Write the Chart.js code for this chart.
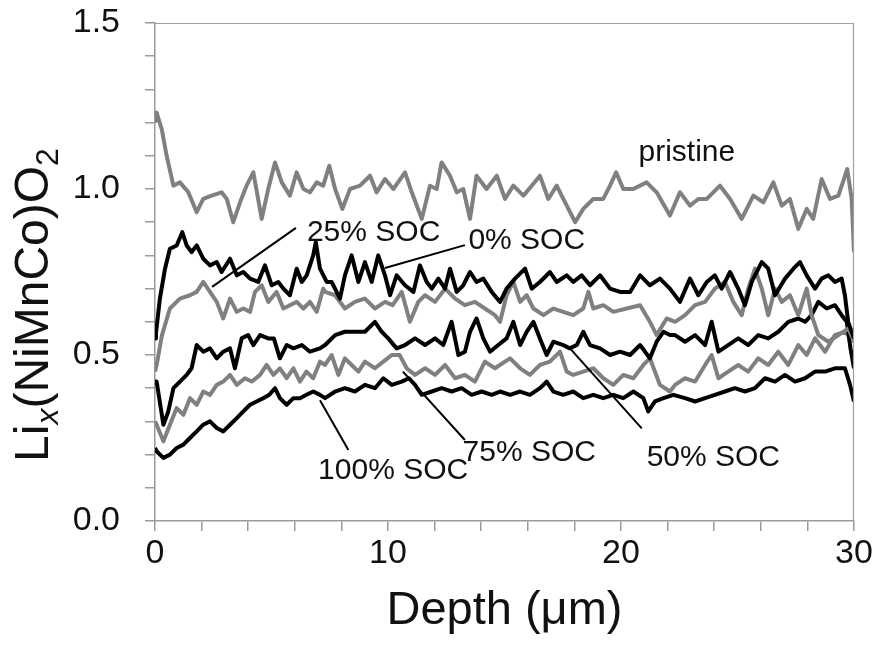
<!DOCTYPE html>
<html lang="en">
<head>
<meta charset="UTF-8" />
<title>Lix(NiMnCo)O2 depth profiles</title>
<script src="https://cdn.jsdelivr.net/npm/chart.js"></script>
<style>
  html,body{margin:0;padding:0;background:#fff}
  #wrap{width:877px;height:647px}
</style>
</head>
<body>
<div id="wrap"><canvas id="chart" width="877" height="647"></canvas></div>
<script>
// --- data: [depth (um), x in Lix(NiMnCo)O2] ---
const pristine=[[0,1.20],[0.07,1.23],[0.29,1.18],[0.5,1.10],[0.79,1.01],[1.07,1.02],[1.43,0.99],[1.79,0.93],[2.07,0.97],[2.43,0.98],[2.86,0.99],[3.08,0.97],[3.36,0.90],[3.65,0.96],[3.93,1.01],[4.22,1.05],[4.58,0.91],[4.86,1.00],[5.15,1.08],[5.44,1.02],[5.79,0.98],[6.08,1.05],[6.37,1.00],[6.65,0.99],[6.94,1.02],[7.22,1.01],[7.48,1.07],[7.73,1.00],[8.04,0.94],[8.37,1.00],[8.8,1.01],[9.23,1.04],[9.51,0.99],[9.87,1.03],[10.23,1.00],[10.73,1.05],[11.02,0.99],[11.45,0.91],[11.8,1.01],[12.09,1.00],[12.3,1.08],[12.66,1.04],[12.95,0.99],[13.23,1.00],[13.52,0.91],[13.8,1.04],[14.23,1.00],[14.67,1.04],[15.02,0.97],[15.38,1.01],[15.81,0.98],[16.17,1.01],[16.52,1.04],[16.88,0.97],[17.24,1.01],[17.6,0.96],[18.03,0.90],[18.38,0.94],[18.81,0.97],[19.24,0.97],[19.53,1.01],[19.79,1.05],[20.1,1.00],[20.53,1.00],[21.1,1.02],[21.53,0.99],[22.1,0.92],[22.53,0.99],[22.96,0.95],[23.32,0.97],[23.68,0.97],[24.25,1.01],[24.68,0.97],[25.18,0.91],[25.68,0.98],[26.11,0.96],[26.54,1.02],[26.9,0.95],[27.25,0.97],[27.61,0.88],[27.97,0.94],[28.25,0.91],[28.61,1.03],[28.97,0.97],[29.33,0.98],[29.71,1.06],[29.9,0.97],[30,0.81]];

const soc0=[[0,0.55],[0.04,0.565],[0.21,0.67],[0.43,0.76],[0.64,0.82],[0.93,0.83],[1.17,0.87],[1.36,0.83],[1.57,0.81],[1.79,0.83],[2.07,0.79],[2.36,0.77],[2.65,0.78],[2.86,0.75],[3.22,0.79],[3.51,0.74],[3.79,0.75],[4.08,0.73],[4.43,0.72],[4.72,0.77],[5.01,0.71],[5.29,0.72],[5.51,0.70],[5.79,0.68],[6.08,0.76],[6.3,0.72],[6.51,0.74],[6.79,0.80],[6.9,0.84],[7.08,0.76],[7.37,0.72],[7.58,0.72],[7.94,0.67],[8.15,0.74],[8.44,0.80],[8.73,0.72],[9.01,0.78],[9.3,0.72],[9.58,0.80],[9.87,0.74],[10.09,0.68],[10.37,0.74],[10.73,0.71],[11.09,0.69],[11.37,0.77],[11.66,0.72],[11.88,0.70],[12.16,0.73],[12.45,0.70],[12.66,0.76],[12.95,0.69],[13.23,0.71],[13.52,0.75],[13.8,0.72],[14.09,0.73],[14.45,0.69],[14.81,0.66],[15.09,0.70],[15.45,0.73],[15.88,0.76],[16.17,0.70],[16.52,0.72],[16.95,0.75],[17.24,0.72],[17.67,0.74],[17.95,0.72],[18.31,0.74],[18.67,0.71],[19.1,0.74],[19.53,0.70],[19.96,0.69],[20.39,0.69],[20.82,0.74],[21.24,0.71],[21.67,0.73],[22.1,0.70],[22.53,0.66],[22.96,0.73],[23.32,0.68],[23.68,0.72],[24.03,0.74],[24.32,0.70],[24.68,0.75],[25.03,0.70],[25.32,0.65],[25.61,0.72],[26.04,0.78],[26.32,0.76],[26.61,0.68],[27.04,0.73],[27.4,0.76],[27.68,0.78],[27.97,0.74],[28.33,0.70],[28.61,0.73],[28.9,0.74],[29.18,0.72],[29.47,0.73],[29.61,0.68],[29.75,0.60],[30,0.55]];

const soc25=[[0,0.45],[0.07,0.47],[0.3,0.56],[0.64,0.64],[1.07,0.67],[1.5,0.68],[1.79,0.69],[2.07,0.72],[2.36,0.69],[2.65,0.66],[2.93,0.61],[3.22,0.67],[3.51,0.63],[3.79,0.64],[4.08,0.63],[4.29,0.69],[4.58,0.71],[4.86,0.66],[5.22,0.69],[5.51,0.64],[5.79,0.65],[6.08,0.66],[6.37,0.64],[6.65,0.66],[6.94,0.63],[7.22,0.70],[7.3,0.69],[7.73,0.68],[8.15,0.64],[8.58,0.66],[9.01,0.67],[9.44,0.64],[9.87,0.66],[10.2,0.65],[10.59,0.69],[10.94,0.60],[11.3,0.66],[11.59,0.68],[12.02,0.66],[12.45,0.70],[12.88,0.67],[13.3,0.65],[13.73,0.66],[14.16,0.64],[14.59,0.62],[14.81,0.60],[15.09,0.68],[15.38,0.72],[15.67,0.66],[15.95,0.68],[16.24,0.64],[16.67,0.62],[17.1,0.64],[17.52,0.63],[17.95,0.62],[18.38,0.64],[18.6,0.69],[18.81,0.64],[19.24,0.65],[19.67,0.63],[20.24,0.64],[20.82,0.65],[21.24,0.60],[21.53,0.56],[21.96,0.61],[22.32,0.60],[22.75,0.62],[23.18,0.65],[23.61,0.66],[24.03,0.70],[24.46,0.72],[24.82,0.66],[25.18,0.62],[25.46,0.70],[25.75,0.76],[26.04,0.70],[26.32,0.62],[26.61,0.70],[26.9,0.66],[27.25,0.68],[27.61,0.62],[27.97,0.70],[28.18,0.62],[28.47,0.56],[28.9,0.54],[29.33,0.56],[29.76,0.58],[30,0.54]];

const soc50=[[0,0.42],[0.07,0.42],[0.36,0.29],[0.57,0.33],[0.79,0.40],[1.07,0.42],[1.36,0.44],[1.57,0.46],[1.79,0.53],[2.07,0.51],[2.36,0.52],[2.65,0.49],[2.93,0.51],[3.22,0.52],[3.43,0.46],[3.72,0.55],[4.0,0.56],[4.22,0.53],[4.51,0.56],[4.86,0.55],[5.1,0.55],[5.36,0.49],[5.65,0.53],[5.94,0.52],[6.3,0.53],[6.65,0.51],[7.08,0.52],[7.3,0.53],[7.73,0.56],[8.15,0.57],[8.58,0.57],[9.01,0.57],[9.44,0.60],[9.73,0.57],[10.01,0.55],[10.37,0.52],[10.73,0.53],[11.16,0.55],[11.59,0.53],[12.02,0.55],[12.37,0.53],[12.73,0.60],[13.02,0.50],[13.3,0.51],[13.52,0.57],[13.8,0.61],[14.09,0.55],[14.38,0.51],[14.73,0.53],[15.09,0.55],[15.38,0.60],[15.67,0.53],[15.95,0.57],[16.24,0.60],[16.52,0.55],[16.81,0.50],[17.1,0.54],[17.52,0.53],[17.8,0.52],[18.1,0.53],[18.38,0.57],[18.67,0.53],[19.1,0.52],[19.53,0.50],[19.96,0.51],[20.39,0.50],[20.82,0.53],[21.24,0.49],[21.53,0.54],[21.82,0.57],[22.1,0.56],[22.32,0.56],[22.75,0.54],[23.18,0.56],[23.61,0.53],[23.89,0.60],[24.18,0.51],[24.6,0.53],[25.03,0.55],[25.46,0.53],[25.89,0.56],[26.32,0.55],[26.75,0.57],[27.18,0.60],[27.61,0.61],[27.9,0.60],[28.18,0.62],[28.47,0.66],[28.83,0.64],[29.18,0.65],[29.47,0.62],[29.69,0.60],[29.85,0.52],[30,0.46]];

const soc75=[[0,0.30],[0.07,0.29],[0.36,0.24],[0.64,0.29],[0.93,0.34],[1.22,0.32],[1.5,0.37],[1.79,0.35],[2.07,0.39],[2.36,0.38],[2.65,0.41],[2.93,0.42],[3.22,0.44],[3.51,0.41],[3.86,0.43],[4.15,0.42],[4.51,0.44],[4.79,0.47],[5.08,0.44],[5.36,0.46],[5.65,0.43],[5.94,0.46],[6.22,0.42],[6.5,0.45],[6.79,0.43],[7.08,0.48],[7.3,0.47],[7.58,0.50],[7.87,0.44],[8.15,0.49],[8.44,0.47],[8.73,0.45],[9.01,0.48],[9.44,0.46],[9.8,0.48],[10.16,0.50],[10.5,0.50],[10.8,0.46],[11.16,0.44],[11.59,0.46],[12.02,0.44],[12.45,0.47],[12.88,0.43],[13.3,0.44],[13.73,0.42],[14.16,0.48],[14.59,0.46],[15.02,0.48],[15.24,0.49],[15.67,0.46],[16.09,0.44],[16.52,0.47],[16.95,0.48],[17.38,0.51],[17.67,0.45],[17.95,0.44],[18.38,0.45],[18.81,0.46],[19.24,0.43],[19.67,0.41],[20.1,0.44],[20.53,0.43],[20.96,0.47],[21.24,0.49],[21.67,0.41],[22.1,0.39],[22.32,0.41],[22.75,0.43],[23.18,0.42],[23.61,0.47],[23.89,0.50],[24.18,0.43],[24.6,0.45],[25.03,0.47],[25.46,0.45],[25.89,0.49],[26.32,0.47],[26.75,0.51],[27.18,0.47],[27.61,0.53],[27.97,0.50],[28.33,0.55],[28.76,0.51],[29.18,0.56],[29.61,0.57],[30,0.54]];

const soc100=[[0,0.22],[0.07,0.21],[0.36,0.19],[0.64,0.20],[0.93,0.22],[1.22,0.23],[1.5,0.25],[1.79,0.27],[2.07,0.29],[2.36,0.30],[2.65,0.28],[2.93,0.27],[3.22,0.29],[3.51,0.31],[3.79,0.33],[4.08,0.35],[4.36,0.36],[4.65,0.37],[4.9,0.38],[5.15,0.40],[5.36,0.37],[5.65,0.35],[5.94,0.37],[6.22,0.37],[6.5,0.38],[6.79,0.39],[7.08,0.38],[7.3,0.37],[7.73,0.39],[8.15,0.40],[8.58,0.39],[9.01,0.41],[9.44,0.40],[9.8,0.43],[10.16,0.41],[10.59,0.42],[10.9,0.43],[11.16,0.41],[11.45,0.38],[11.88,0.39],[12.3,0.40],[12.73,0.39],[13.16,0.40],[13.59,0.38],[14.02,0.39],[14.45,0.38],[14.81,0.39],[15.24,0.38],[15.67,0.39],[16.09,0.38],[16.52,0.40],[16.81,0.42],[17.1,0.39],[17.52,0.38],[17.95,0.39],[18.38,0.37],[18.81,0.38],[19.24,0.37],[19.67,0.38],[20.1,0.37],[20.53,0.39],[20.96,0.37],[21.17,0.33],[21.46,0.36],[21.82,0.37],[22.25,0.38],[22.75,0.37],[23.18,0.36],[23.61,0.37],[24.03,0.38],[24.46,0.39],[24.89,0.40],[25.32,0.39],[25.75,0.40],[26.18,0.43],[26.61,0.42],[27.04,0.44],[27.47,0.42],[27.9,0.43],[28.33,0.45],[28.76,0.45],[29.18,0.46],[29.61,0.46],[29.83,0.41],[30,0.36]];

const seriesNames=['pristine','0% SOC','25% SOC','50% SOC','75% SOC','100% SOC'];
const xTickLabels=[0,10,20,30];
const yTickLabels=[0.0,0.5,1.0,1.5];

// --- labels with leader lines (data coords) ---
const notes=[
  {text:'pristine', at:[20.75,1.11]},
  {text:'25% SOC', at:[6.52,0.867], from:[6.05,0.883], to:[2.45,0.705]},
  {text:'0% SOC', at:[13.45,0.843], from:[13.3,0.831], to:[9.87,0.762]},
  {text:'100% SOC', at:[7.0,0.152], from:[8.3,0.214], to:[7.08,0.364]},
  {text:'75% SOC', at:[13.2,0.205], from:[13.3,0.244], to:[10.64,0.45]},
  {text:'50% SOC', at:[21.1,0.192], from:[20.89,0.279], to:[17.81,0.52]}
];

const FONT='"Liberation Sans", Arial, Helvetica, sans-serif';
const GRAY='#808080';

const textPlugin={
  id:'texts',
  afterDatasetsDraw(chart){
    const ctx=chart.ctx, xs=chart.scales.x, ys=chart.scales.y, ca=chart.chartArea;
    ctx.save();
    // top/right frame
    ctx.strokeStyle='#7ea6dc'; ctx.lineWidth=1.2;
    ctx.beginPath();
    ctx.moveTo(ca.left,ca.top+0.5); ctx.lineTo(ca.right-0.5,ca.top+0.5); ctx.lineTo(ca.right-0.5,ca.bottom);
    ctx.stroke();
    // notes
    ctx.fillStyle='#111'; ctx.strokeStyle='#000'; ctx.lineWidth=2;
    ctx.font='30px '+FONT; ctx.textBaseline='middle'; ctx.textAlign='left';
    notes.forEach(n=>{
      if(n.from){
        ctx.beginPath();
        ctx.moveTo(xs.getPixelForValue(n.from[0]),ys.getPixelForValue(n.from[1]));
        ctx.lineTo(xs.getPixelForValue(n.to[0]),ys.getPixelForValue(n.to[1]));
        ctx.stroke();
      }
      ctx.fillText(n.text,xs.getPixelForValue(n.at[0]),ys.getPixelForValue(n.at[1]));
    });
    // x title
    ctx.font='47px '+FONT; ctx.textAlign='center'; ctx.textBaseline='alphabetic';
    ctx.fillText('Depth (\u03bcm)',(ca.left+ca.right)/2,624);
    // y title with subscripts
    const parts=[{t:'Li',s:48},{t:'x',s:32,sub:true,it:true},{t:'(NiMnCo)O',s:48},{t:'2',s:32,sub:true}];
    let total=0;
    parts.forEach(p=>{ctx.font=(p.it?'italic ':'')+p.s+'px '+FONT; p.w=ctx.measureText(p.t).width; total+=p.w;});
    ctx.translate(48,305); ctx.rotate(-Math.PI/2);
    ctx.textAlign='left';
    let cx=-total/2;
    parts.forEach(p=>{
      ctx.font=(p.it?'italic ':'')+p.s+'px '+FONT;
      ctx.fillText(p.t,cx,p.sub?10:0);
      cx+=p.w;
    });
    ctx.restore();
  }
};

const mk=(label,pts,color)=>({
  label, data:pts.map(p=>({x:p[0],y:p[1]})), borderColor:color, borderWidth:4,
  pointRadius:0, tension:0, fill:false, borderJoinStyle:'round'
});

new Chart(document.getElementById('chart'),{
  type:'line',
  data:{datasets:[
    mk(seriesNames[0],pristine,GRAY),
    mk(seriesNames[1],soc0,'#000'),
    mk(seriesNames[2],soc25,GRAY),
    mk(seriesNames[3],soc50,'#000'),
    mk(seriesNames[4],soc75,GRAY),
    mk(seriesNames[5],soc100,'#000')
  ]},
  options:{
    responsive:false, animation:false, devicePixelRatio:1,
    layout:{padding:{top:23,right:23,left:0,bottom:0}},
    plugins:{legend:{display:false},tooltip:{enabled:false}},
    scales:{
      x:{type:'linear',min:0,max:30,
        afterFit(s){s.height=126;s.paddingLeft=0;s.paddingRight=0;},
        ticks:{stepSize:2,autoSkip:false,maxRotation:0,padding:2,color:'#111',font:{family:FONT,size:34},
          callback:v=>xTickLabels.includes(v)?String(v):''},
        grid:{drawOnChartArea:false,drawTicks:true,tickLength:10,color:'#9a9a9a',lineWidth:1.5},
        border:{display:true,color:'#9a9a9a',width:1.5}
      },
      y:{min:0,max:1.5,
        afterFit(s){s.width=155;s.paddingTop=0;s.paddingBottom=0;},
        ticks:{stepSize:0.1,autoSkip:false,padding:25,color:'#111',font:{family:FONT,size:34},
          callback:v=>{const r=Math.round(v*10)/10;return yTickLabels.some(t=>Math.abs(t-r)<1e-6)?r.toFixed(1):'';}},
        grid:{drawOnChartArea:false,drawTicks:true,tickLength:10,color:'#9a9a9a',lineWidth:1.5},
        border:{display:true,color:'#9a9a9a',width:1.5}
      }
    }
  },
  plugins:[textPlugin]
});
</script>
</body>
</html>
